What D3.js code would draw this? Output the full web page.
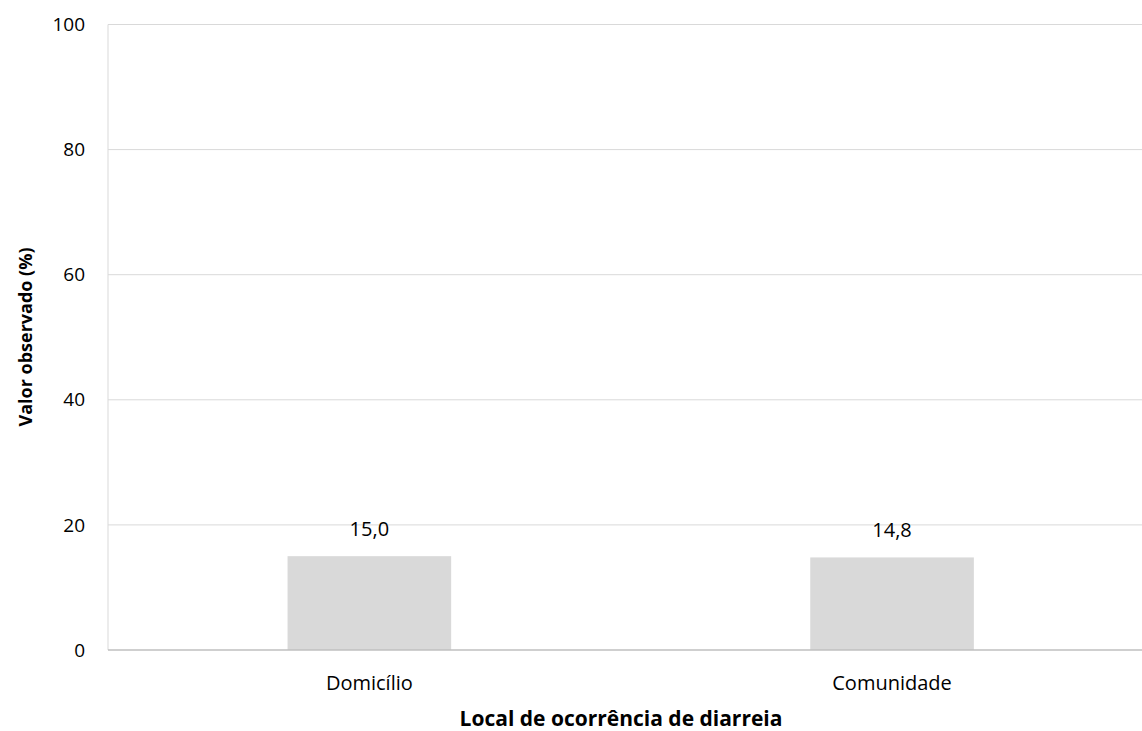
<!DOCTYPE html>
<html><head><meta charset="utf-8">
<script src="https://cdn.jsdelivr.net/npm/d3@7"></script>
<style>body{margin:0;background:#fff;} svg{display:block;font-family:"Open Sans","Noto Sans",sans-serif;}</style>
</head><body>
<svg id="c" width="1142" height="731"></svg>
<script>
const categories = ["Domicílio", "Comunidade"];
const values = [15.0, 14.8];
const labels = ["15,0", "14,8"];
const yTicks = [0, 20, 40, 60, 80, 100];
const yTitle = "Valor observado (%)";
const xTitle = "Local de ocorrência de diarreia";

const svg = d3.select("#c");
const m = {l:108, t:24.5, r:1153.4, b:650};
const x = d3.scaleBand().domain(categories).range([m.l, m.r]).paddingInner(0.687).paddingOuter(0.3435);
const y = d3.scaleLinear().domain([0,100]).range([m.b, m.t]);

// gridlines
svg.append("g").selectAll("line").data(yTicks.filter(d=>d>0)).join("line")
  .attr("x1", m.l).attr("x2", 1142).attr("y1", d=>y(d)).attr("y2", d=>y(d))
  .attr("stroke", "#d9d9d9").attr("stroke-width", 1);
// left vertical line
svg.append("line").attr("x1", m.l).attr("x2", m.l).attr("y1", m.t).attr("y2", m.b)
  .attr("stroke", "#d9d9d9").attr("stroke-width", 1);

// bars
svg.append("g").selectAll("rect").data(categories).join("rect")
  .attr("x", d=>x(d)).attr("width", x.bandwidth())
  .attr("y", (d,i)=>y(values[i])).attr("height", (d,i)=>y(0)-y(values[i]))
  .attr("fill", "#d9d9d9");

// baseline
svg.append("line").attr("x1", m.l).attr("x2", 1142).attr("y1", y(0)).attr("y2", y(0))
  .attr("stroke", "#bfbfbf").attr("stroke-width", 1.5);

// value labels
svg.append("g").selectAll("text").data(categories).join("text")
  .attr("x", d=>x(d)+x.bandwidth()/2).attr("y", (d,i)=>y(values[i])-20)
  .attr("text-anchor","middle").attr("font-size", 20).attr("fill","#000")
  .text((d,i)=>labels[i]);

// y tick labels
svg.append("g").selectAll("text").data(yTicks).join("text")
  .attr("x", 85).attr("y", d=>y(d)).attr("dy","0.35em")
  .attr("text-anchor","end").attr("font-size", 19).attr("fill","#000")
  .text(d=>d);

// x category labels
svg.append("g").selectAll("text").data(categories).join("text")
  .attr("x", d=>x(d)+x.bandwidth()/2).attr("y", 683).attr("dy","0.35em")
  .attr("text-anchor","middle").attr("font-size", 20).attr("fill","#000")
  .text(d=>d);

// axis titles
svg.append("text").attr("x", 621).attr("y", 719).attr("dy","0.35em")
  .attr("text-anchor","middle").attr("font-size", 21).attr("font-weight","bold").text(xTitle);
svg.append("text").attr("transform","translate(26,337) rotate(-90)").attr("dy","0.35em")
  .attr("text-anchor","middle").attr("font-size", 18).attr("font-weight","bold").text(yTitle);
</script>
</body></html>
